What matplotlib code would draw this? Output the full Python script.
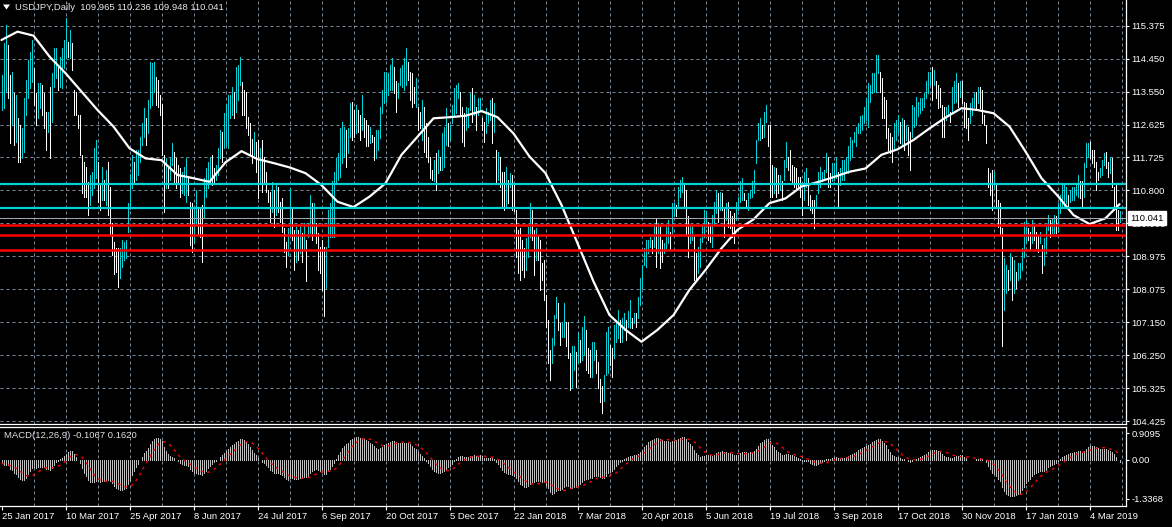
import numpy as np
import pandas as pd
import matplotlib
matplotlib.use("Agg")
import matplotlib.pyplot as plt
from matplotlib.transforms import blended_transform_factory
from matplotlib.patches import Polygon

plt.rcParams['font.family'] = ['Liberation Sans', 'DejaVu Sans']

# ---------------- data ----------------
title_text = "USDJPY,Daily  109.965 110.236 109.948 110.041"
macd_text = "MACD(12,26,9) -0.1067 0.1620"

date_labels = ["25 Jan 2017", "10 Mar 2017", "25 Apr 2017", "8 Jun 2017", "24 Jul 2017",
               "6 Sep 2017", "20 Oct 2017", "5 Dec 2017", "22 Jan 2018", "7 Mar 2018",
               "20 Apr 2018", "5 Jun 2018", "19 Jul 2018", "3 Sep 2018", "17 Oct 2018",
               "30 Nov 2018", "17 Jan 2019", "4 Mar 2019"]

price_ticks = [104.425, 105.3375, 106.25, 107.1625, 108.075, 108.9875, 109.9,
               110.8125, 111.725, 112.6375, 113.55, 114.4625, 115.375]
price_tick_labels = ["104.425", "105.325", "106.250", "107.150", "108.075", "108.975", "109.900",
                     "110.800", "111.725", "112.625", "113.550", "114.450", "115.375"]

macd_ticks = [0.9095, 0.0, -1.3368]
macd_tick_labels = ["0.9095", "0.00", "-1.3368"]

cyan_levels = [110.99, 110.325]
red_levels = [109.855, 109.58, 109.155]
last_price = 110.041

highs = [
    114.01, 114.89, 115.39, 114.84, 114.01, 114.10, 113.50, 113.45, 112.81, 112.62,
    112.53, 113.36, 113.87, 114.42, 114.65, 114.98, 114.19, 113.50, 113.78, 113.78,
    113.73, 113.50, 112.99, 112.99, 113.69, 114.06, 114.75, 114.75, 114.29, 114.52,
    114.75, 114.98, 115.58, 114.93, 115.25, 114.89, 113.59, 113.55, 112.90, 112.90,
    111.79, 111.61, 111.47, 111.05, 111.24, 111.33, 111.98, 112.21, 111.61, 110.96,
    111.47, 111.10, 111.38, 111.61, 110.91, 109.90, 109.39, 109.21, 109.21, 109.21,
    109.44, 109.39, 109.44, 110.45, 111.28, 111.79, 111.61, 111.93, 111.93, 112.30,
    112.67, 113.09, 112.81, 113.32, 114.38, 114.33, 114.38, 113.96, 113.87, 113.45,
    113.22, 111.79, 111.70, 111.47, 111.70, 112.12, 111.88, 111.70, 111.52, 111.42,
    111.33, 111.47, 111.70, 111.15, 110.50, 110.45, 110.31, 110.82, 110.31, 110.31,
    110.41, 111.15, 111.42, 111.61, 111.75, 111.79, 111.42, 111.52, 111.98, 112.49,
    112.44, 112.95, 113.22, 113.45, 113.45, 113.69, 113.55, 114.24, 114.29, 114.52,
    113.82, 113.59, 113.55, 112.85, 112.67, 112.25, 112.44, 112.16, 112.21, 111.98,
    112.21, 111.75, 111.33, 110.82, 110.77, 111.05, 110.82, 111.01, 110.91, 110.50,
    110.59, 109.76, 109.39, 109.76, 110.87,
    110.36, 109.72, 109.86, 109.72, 109.86, 109.62, 109.90, 109.44, 109.90, 110.69,
    110.46, 110.46, 109.90, 109.62, 109.25, 109.44, 109.25, 109.25, 110.27, 110.46,
    111.06, 111.33, 111.70, 111.84, 112.53, 112.72, 112.58, 112.49, 112.53, 113.23,
    113.27, 113.04, 113.18, 113.04, 112.90, 113.46, 112.81, 112.76, 112.63, 112.58,
    112.35, 112.30, 112.49, 112.49, 113.13, 113.59, 114.10, 114.10, 114.06, 114.29,
    114.47, 114.24, 113.83, 113.78, 114.20, 114.29, 114.47, 114.75, 114.38, 114.10,
    114.06, 113.69, 113.92, 113.13, 112.99, 113.32, 113.13, 112.67, 112.30, 111.75,
    111.38, 111.66, 111.84, 111.93, 111.75, 112.39, 112.58, 113.09, 112.67, 112.63,
    113.18, 113.64, 113.73, 113.78, 113.55, 113.13, 112.95, 113.13, 113.09, 113.50,
    113.64, 113.46, 113.13, 113.36, 113.36, 112.81, 112.72, 113.09, 112.99, 113.32,
    113.36, 113.23, 111.93, 111.89, 111.75, 111.33, 111.33, 111.47, 111.10, 111.29,
    111.24, 111.01, 110.27, 109.72, 109.76, 109.44, 109.21, 109.49, 109.81, 110.46,
    110.27, 109.72, 109.76, 109.58, 109.44, 108.79, 108.89, 107.92, 107.22, 106.39,
    106.72, 107.36, 107.87, 107.69, 107.13, 107.18, 107.69, 107.18, 107.18,
    106.30, 106.49, 106.49, 106.35, 106.85, 106.67, 107.04, 107.32, 106.95, 106.44,
    106.39, 106.62, 106.62, 106.39, 106.07, 105.60, 105.40, 105.70, 106.90, 107.04,
    106.53, 106.44, 107.08, 107.18, 107.50, 107.22, 107.27, 107.41, 107.22, 107.46,
    107.78, 107.27, 107.41, 107.41, 107.87, 108.38, 108.75, 109.21, 109.44, 109.44,
    109.53, 109.44, 109.90, 110.04, 109.90, 109.81, 109.44, 109.35, 109.86, 109.99,
    109.67, 110.46, 110.46, 110.41, 110.92, 111.10, 111.19, 111.01, 110.83, 110.09,
    109.81, 109.86, 109.53, 109.07, 109.25, 109.49, 109.86, 110.27, 110.23, 109.95,
    109.86, 110.13, 110.50, 110.83, 110.73, 110.78, 110.73, 110.36, 110.46, 110.50,
    110.23, 110.09, 110.18, 110.50, 110.64, 111.06, 111.15, 110.73, 110.55, 110.73,
    110.83, 111.06, 111.38, 112.21, 112.67, 112.81, 112.63, 112.99, 113.18, 112.63,
    112.63, 111.52, 111.47, 111.43, 111.24, 111.24, 111.06, 111.66, 112.16, 111.75,
    111.93, 111.52, 111.47, 111.43, 111.19, 111.19, 110.83, 111.33, 111.43, 111.15,
    110.69, 110.55, 110.55, 110.69, 111.33, 111.47, 111.33, 111.38, 111.84, 111.75,
    111.29, 111.56, 111.56, 111.75, 111.33, 111.43, 111.66, 111.66, 111.75, 112.03,
    112.30, 112.21, 112.44, 112.58, 112.67, 112.86, 112.90, 113.13, 113.36, 113.78,
    113.73, 114.06, 114.06, 114.56, 114.56, 114.10, 113.92, 113.41, 113.32, 112.53,
    112.39, 112.30, 112.67, 112.76, 112.90, 112.72, 112.81, 112.76, 112.63, 112.58,
    112.44, 113.18, 113.13, 113.41, 113.27, 113.36, 113.36, 113.50, 113.83, 114.10,
    114.10, 114.24, 114.15, 113.83, 113.73, 113.64, 113.18, 113.13, 113.13, 113.18,
    112.99, 113.69, 113.83, 114.06, 113.78, 113.83, 113.83, 113.27, 113.23, 112.81,
    113.23, 113.36, 113.50, 113.55, 113.69, 113.69, 113.59, 112.90, 112.63, 111.43,
    111.29, 111.38, 111.33, 111.01, 110.55, 110.46, 109.76, 108.93, 108.75, 108.61,
    109.07, 108.98, 108.89, 108.56, 108.79, 108.79, 109.21, 109.95, 109.99, 109.76,
    109.67, 109.99, 109.86, 109.67, 109.58, 109.67, 109.30, 109.49, 109.81, 110.13,
    109.99, 110.04, 110.13, 110.09, 110.46, 110.69, 111.01, 111.01, 110.92, 110.69,
    110.83, 110.92, 110.92, 111.01, 111.24, 111.06, 111.06, 111.56, 112.12, 112.12,
    112.16, 111.93, 111.93, 111.61, 111.33, 111.43, 111.66, 111.84, 111.89, 111.61,
    111.75, 111.70, 110.92, 110.96, 110.27, 110.24,
]

lows = [
    113.04, 113.09, 113.55, 113.36, 112.12, 112.62, 112.07, 112.16, 111.61, 111.61,
    111.70, 111.88, 112.90, 113.36, 113.64, 113.82, 113.18, 112.62, 112.81, 113.09,
    112.90, 112.53, 111.93, 112.44, 111.70, 112.72, 113.69, 113.92, 113.59, 113.69,
    113.64, 114.19, 114.47, 114.52, 114.47, 114.15, 112.90, 112.90, 112.53, 111.79,
    110.73, 110.64, 110.64, 110.13, 110.41, 110.68, 110.87, 111.15, 110.50, 110.27,
    110.55, 110.55, 110.41, 110.13, 109.58, 109.02, 108.51, 108.56, 108.15, 108.38,
    108.70, 108.88, 108.93, 109.67, 110.31, 110.87, 111.05, 111.10, 111.24, 111.61,
    112.07, 112.30, 112.07, 112.39, 113.09, 113.18, 113.55, 113.18, 113.13, 112.90,
    111.79, 110.22, 110.87, 110.87, 111.10, 111.52, 111.05, 110.87, 111.01, 110.64,
    110.73, 110.68, 110.50, 110.68, 109.30, 109.11, 109.39, 109.85, 109.58, 109.53,
    108.84, 110.04, 110.64, 110.87, 111.01, 110.96, 111.05, 111.10, 111.24, 111.70,
    111.61, 111.98, 112.07, 111.98, 112.81, 112.90, 112.81, 112.99, 113.32, 113.73,
    112.90, 112.90, 112.53, 112.35, 111.79, 111.56, 111.79, 111.33, 110.59, 111.05,
    110.77, 111.05, 110.77, 110.50, 109.94, 110.22, 109.81, 110.13, 110.22, 109.94,
    109.67, 109.11, 108.70, 109.02, 109.58,
    109.44, 108.61, 108.84, 108.89, 109.07, 108.84, 109.16, 108.29, 109.53, 109.62,
    109.44, 109.62, 109.35, 108.61, 108.52, 108.06, 107.32, 108.10, 109.25, 109.53,
    109.53, 109.53, 111.01, 111.10, 111.19, 111.56, 111.75, 111.47, 111.84, 112.30,
    112.21, 112.30, 112.39, 112.44, 112.21, 112.49, 112.30, 112.03, 112.03, 112.12,
    112.16, 111.66, 111.70, 111.93, 112.26, 112.95, 113.23, 113.27, 113.46, 113.59,
    113.59, 113.50, 112.99, 113.36, 113.73, 113.69, 113.59, 113.73, 113.87, 113.32,
    113.13, 113.23, 113.13, 112.49, 112.53, 112.21, 111.89, 111.75, 111.61, 111.15,
    111.10, 111.06, 110.83, 111.29, 111.38, 111.38, 111.47, 112.07, 112.03, 112.21,
    112.67, 112.86, 112.95, 113.36, 112.86, 112.16, 112.03, 112.49, 112.58, 113.04,
    112.72, 112.90, 112.49, 112.90, 113.04, 112.49, 112.16, 112.39, 112.67, 112.76,
    112.12, 112.44, 111.01, 111.10, 110.92, 110.32, 110.27, 110.36, 110.46, 110.92,
    110.27, 110.23, 108.98, 108.52, 108.33, 108.61, 108.42, 108.61, 108.98, 109.53,
    109.44, 108.47, 108.89, 108.89, 108.06, 108.33, 107.78, 107.04, 106.02, 105.56,
    106.02, 106.53, 107.27, 106.95, 106.53, 106.76, 106.76, 106.49, 106.16,
    105.28, 105.33, 105.84, 105.38, 106.02, 106.07, 106.12, 106.25, 105.84, 105.75,
    105.65, 105.65, 106.12, 105.75, 105.33, 104.95, 104.65, 104.98, 105.70, 105.75,
    105.98, 105.65, 106.16, 106.62, 106.72, 106.62, 106.62, 106.95, 106.67, 107.04,
    106.99, 106.99, 107.13, 107.04, 107.27, 107.64, 108.10, 108.75, 108.70, 109.07,
    109.25, 109.07, 109.25, 108.70, 109.07, 108.65, 108.84, 109.07, 109.16, 109.35,
    109.16, 109.62, 110.09, 110.09, 110.36, 110.64, 110.78, 110.36, 109.58, 108.98,
    109.35, 109.44, 108.33, 108.33, 108.52, 108.70, 109.39, 109.53, 109.81, 109.44,
    109.39, 109.25, 109.86, 110.18, 109.95, 110.27, 110.27, 109.53, 109.99, 109.81,
    109.76, 109.53, 109.35, 109.99, 110.27, 110.50, 110.55, 110.55, 110.32, 110.27,
    110.59, 110.64, 110.73, 111.56, 112.21, 112.21, 112.26, 112.30, 112.72, 112.03,
    110.64, 110.64, 110.73, 110.64, 110.73, 110.83, 110.55, 111.10, 111.47, 111.38,
    111.10, 111.01, 110.92, 110.87, 110.87, 110.64, 110.13, 110.55, 110.92, 110.41,
    110.27, 110.18, 109.76, 110.32, 110.73, 110.92, 111.06, 111.10, 111.33, 110.92,
    110.92, 111.06, 111.10, 111.15, 110.36, 110.96, 111.10, 111.10, 111.33, 111.29,
    111.66, 111.75, 112.16, 112.03, 112.39, 112.39, 112.49, 112.67, 112.76, 112.58,
    113.27, 113.50, 113.55, 113.55, 114.06, 113.55, 112.81, 112.81, 112.26, 111.93,
    111.84, 111.61, 111.93, 112.21, 112.39, 112.12, 112.03, 111.93, 112.21, 111.79,
    111.38, 112.30, 112.58, 112.63, 112.86, 112.95, 113.04, 113.13, 113.36, 113.50,
    113.73, 113.32, 113.73, 113.36, 113.09, 113.13, 112.30, 112.30, 112.76, 112.90,
    112.72, 112.99, 113.23, 113.27, 113.13, 113.41, 113.23, 112.58, 112.53, 112.21,
    112.67, 112.90, 113.13, 113.04, 113.23, 113.09, 112.67, 112.63, 112.12, 110.92,
    110.69, 110.27, 110.87, 110.36, 109.81, 109.58, 106.49, 107.50, 107.96, 108.06,
    108.33, 107.78, 107.96, 108.10, 108.33, 108.38, 108.61, 108.98, 109.39, 109.44,
    109.16, 109.35, 109.44, 109.21, 109.12, 109.35, 108.52, 108.75, 109.07, 109.72,
    109.53, 109.62, 109.62, 109.62, 109.67, 110.18, 110.36, 110.36, 110.46, 110.36,
    110.50, 110.55, 110.55, 110.69, 110.64, 110.59, 110.36, 110.64, 111.47, 111.75,
    111.70, 111.56, 111.47, 110.83, 111.10, 111.19, 111.24, 111.52, 111.43, 111.19,
    111.29, 110.92, 110.36, 109.72, 109.72, 109.95,
]

# moving average read every 8 bars (last value = last bar)
ma_values = [
    114.98, 115.21, 115.10, 114.52, 114.06, 113.55, 113.04, 112.58, 111.98, 111.70,
    111.65, 111.24, 111.15, 111.05, 111.59, 111.90, 111.68, 111.57, 111.45, 111.29,
    110.96, 110.50, 110.35, 110.64, 111.01, 111.80, 112.30, 112.81, 112.84, 112.88,
    113.01, 112.84, 112.39, 111.75, 111.29, 110.41, 109.35, 108.29, 107.36, 106.95,
    106.62, 106.95, 107.36, 108.06, 108.61, 109.21, 109.72, 110.01, 110.46, 110.59,
    110.92, 111.04, 111.18, 111.33, 111.42, 111.80, 111.95, 112.21, 112.53, 112.83,
    113.09, 113.04, 112.95, 112.58, 111.89, 111.15, 110.67, 110.13, 109.88, 110.04,
    110.43,
]

# ---------------- derived ----------------
n = min(len(highs), len(lows))
hi = np.array(highs[:n])
lo = np.array(lows[:n])
mid = (hi + lo) / 2.0
idx = np.arange(n)
up = np.concatenate([[True], mid[1:] >= mid[:-1]])

ext = pd.Series(np.concatenate([[ma_values[0]], mid]))
macd_main = (ext.ewm(span=12, adjust=False).mean() - ext.ewm(span=26, adjust=False).mean()).to_numpy()[1:]
macd_signal = pd.Series(macd_main).rolling(9, min_periods=1).mean().to_numpy()

ma_x = np.minimum(np.arange(len(ma_values)) * 8, n - 1)

# ---------------- layout ----------------
W, H = 1172, 527
BG = 'black'
GRID = '#778899'
CYAN = '#00D2D8'
FS = 6.8
PX = 72.0 / 100.0  # one pixel in points


def rect(x0, y0, x1, y1):
    return [x0 / W, 1 - y1 / H, (x1 - x0) / W, (y1 - y0) / H]


fig = plt.figure(figsize=(W / 100, H / 100), dpi=100, facecolor=BG)
ax = fig.add_axes(rect(0, 0, 1126, 424), facecolor=BG)
ax2 = fig.add_axes(rect(0, 427, 1126, 506), facecolor=BG, sharex=ax)

ax.set_xlim(-0.75, 562.25)
ax.set_ylim(104.342, 116.087)
ax2.set_ylim(-1.58, 1.116)

# grid
grid_bars = np.arange(16, 561, 16)
for a in (ax, ax2):
    for gx in grid_bars:
        a.axvline(gx, color=GRID, lw=PX, ls=(0, (3, 3)), zorder=0)
for p in price_ticks:
    ax.axhline(p, color=GRID, lw=PX, ls=(0, (3, 3)), zorder=0)

# price bars
colors = [CYAN if u else 'white' for u in up]
ax.vlines(idx, lo, hi, colors=colors, lw=PX, antialiased=False, zorder=3)

# moving average
ax.plot(ma_x, ma_values, color='white', lw=1.6, zorder=4,
        solid_capstyle='round', solid_joinstyle='round')

# horizontal levels
for lv in cyan_levels:
    ax.axhline(lv, color=CYAN, lw=1.6, zorder=5)
for lv in red_levels:
    ax.axhline(lv, color='#ff0000', lw=1.8, zorder=5)
ax.axhline(last_price, color='#a0a8b0', lw=PX, zorder=5)

# MACD
ax2.vlines(idx, 0, macd_main, colors='#c0c0c0', lw=PX, antialiased=False, zorder=3)
ax2.plot(idx, macd_signal, color='#ff0000', lw=1.0, ls=(0, (2, 3)), zorder=4)

# spines
for a in (ax, ax2):
    for s in a.spines.values():
        s.set_color('white')
        s.set_linewidth(0.9)
    a.spines['left'].set_visible(False)
ax.spines['top'].set_visible(False)

# axes ticks
ax.yaxis.tick_right()
ax.set_yticks(price_ticks)
ax.set_yticklabels(price_tick_labels)
ax.tick_params(axis='y', length=2.5, width=0.8, color='white', pad=1.5,
               labelsize=FS, labelcolor='white')
ax.tick_params(axis='x', bottom=False, labelbottom=False)

ax2.yaxis.tick_right()
ax2.set_yticks(macd_ticks)
ax2.set_yticklabels(macd_tick_labels)
ax2.tick_params(axis='y', length=2.5, width=0.8, color='white', pad=1.5,
                labelsize=FS, labelcolor='white')
ax2.set_xticks(np.arange(len(date_labels)) * 32)
ax2.set_xticklabels(date_labels)
ax2.tick_params(axis='x', length=3, width=0.8, color='white', pad=1.0,
                labelsize=FS, labelcolor='white')
for t in ax2.get_xticklabels():
    t.set_horizontalalignment('left')

# last price label (covers the 109.900 label as in the terminal)
tr = blended_transform_factory(ax.transAxes, ax.transData)
ax.text(1.0 + 4 / 1126, last_price, f"{last_price:.3f}", transform=tr, ha='left', va='center',
        color='black', fontsize=FS, clip_on=False, zorder=20,
        bbox=dict(boxstyle='square,pad=0.25', fc='white', ec='white'))

# titles
fig.text(15 / W, 1 - 7.5 / H, title_text, color='#e8e8e8', fontsize=FS, va='center', ha='left')
fig.text(4 / W, 1 - 436 / H, macd_text, color='#e0e0e0', fontsize=FS, va='center', ha='left')
tri = Polygon([(3 / W, 1 - 4.5 / H), (10 / W, 1 - 4.5 / H), (6.5 / W, 1 - 9.5 / H)],
              closed=True, fc='white', ec='none', transform=fig.transFigure)
fig.patches.append(tri)

fig.savefig('out.png', dpi=100, facecolor=BG)
